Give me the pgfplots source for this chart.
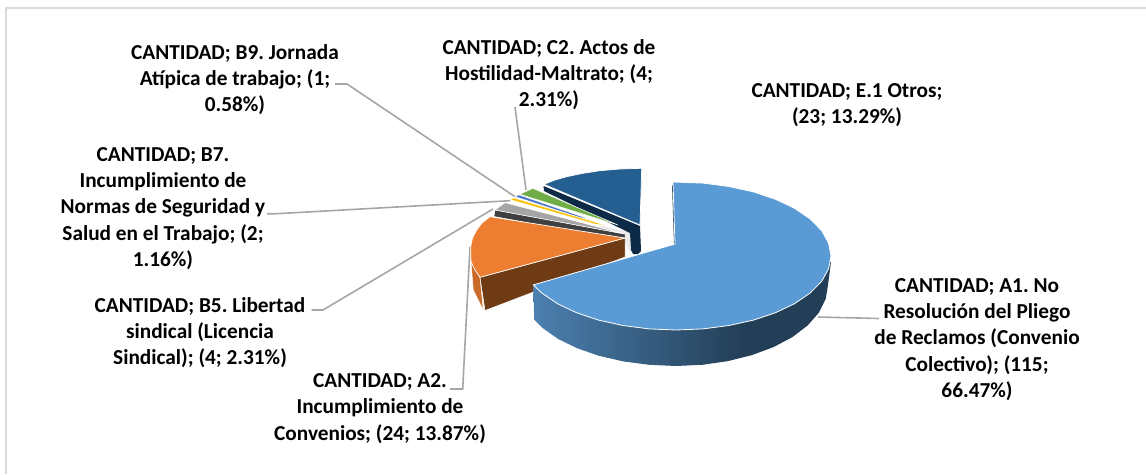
\documentclass[border=0pt]{standalone}
\usepackage{fontspec}
\usepackage{pgfplots}
\pgfplotsset{compat=1.18}
\setmainfont{Carlito}
\frenchspacing
\definecolor{cA}{HTML}{5B9BD5}
\definecolor{cAl}{HTML}{4C80AF}
\definecolor{cAd}{HTML}{233F58}
\definecolor{cO}{HTML}{ED7D31}
\definecolor{cOs}{HTML}{C96A2A}
\definecolor{cBr}{HTML}{6F3B14}
\definecolor{cG}{HTML}{A5A5A5}
\definecolor{cGd}{HTML}{404040}
\definecolor{cY}{HTML}{FFC000}
\definecolor{cB}{HTML}{4472C4}
\definecolor{cGr}{HTML}{70AD47}
\definecolor{cN}{HTML}{255E91}
\definecolor{cNd}{HTML}{0D2A47}
\definecolor{lead}{HTML}{A6A6A6}
\definecolor{frame}{HTML}{D9D9D9}
\pgfdeclarehorizontalshading{sideblue}{100bp}{color(0bp)=(cAl); color(25bp)=(cAl); color(60bp)=(cAd); color(100bp)=(cAd)}
\tikzset{lbl/.style={font=\fontsize{21.3}{26.2}\selectfont\bfseries,align=center,text=black,inner sep=0pt},
  ld/.style={draw=lead,line width=1.6pt}}
\begin{document}
\begin{tikzpicture}
\useasboundingbox (0,0) rectangle (1146pt,474pt);
\begin{axis}[at={(0,0)},anchor=south west,scale only axis,width=1146pt,height=474pt,
  xmin=0,xmax=1146,ymin=0,ymax=474,y dir=reverse,hide axis,clip=false]
% frame
\addplot[draw=frame,line width=1.6pt] coordinates {(6,474) (6,8) (1146,8)};
% leader lines
\addplot[ld] coordinates {(818,317) (879,318.5)};
\addplot[ld] coordinates {(450,389) (462.7,389) (470,247)};
\addplot[ld] coordinates {(311.7,310) (323,310) (493,209)};
\addplot[ld] coordinates {(267,213.7) (276.7,213.7) (510,200.7)};
\addplot[ld] coordinates {(335,84) (347,84) (515,196.7)};
\addplot[ld] coordinates {(515,107) (526,190)};
% light inner region
\addplot[fill=black!8,draw=none] coordinates {(598,225) (630,232) (631,254) (624,240)} --cycle;
% E.1 Otros
\addplot[fill=cNd,draw=none] coordinates {(543.5,186) (640,226) (641,251) (638,254) (633,254) (631,250) (630,233) (544,191)} --cycle;
\addplot[fill=cN,draw=white,line width=0.7pt] coordinates {(544,184.3) (555,180) (566.7,176.7) (583,173.3) (600,170.7) (620,169) (641.7,168.3) (640,225)} --cycle;
% C2
\addplot[fill=cGr,draw=white,line width=0.5pt] coordinates {(520,194.3) (532.7,188.3) (618,225)} --cycle;
% B9
\addplot[fill=cB,draw=white,line width=0.3pt] coordinates {(515,196.5) (519,195) (590,219.5) (580,217.5)} --cycle;
% B7
\addplot[fill=cY,draw=white,line width=0.3pt] coordinates {(510,199.5) (514,198) (606,225.5) (595,224)} --cycle;
% B5
\addplot[fill=cGd,draw=white,line width=0.5pt] coordinates {(495,210) (625,234) (625,241) (494,216.5)} --cycle;
\addplot[fill=cG,draw=white,line width=0.5pt] coordinates {(495,210) (505,202.7) (625,234)} --cycle;
% A2
\addplot[fill=cOs,draw=white,line width=0.5pt] coordinates {(471,261.7) (473.3,290) (483.3,310) (480,277.3)} --cycle;
\addplot[fill=cBr,draw=white,line width=0.5pt] coordinates {(480,277.3) (625,238) (625,257) (485,310.5)} --cycle;
\addplot[fill=cO,draw=white,line width=0.7pt] coordinates {(490,216.7) (482,223) (476.7,230) (472.5,238) (470.7,246.7) (470.7,254) (471,261.7) (475,270) (480,277.3) (625,238)} --cycle;
% A1 side
\addplot[shading=sideblue,draw=none] coordinates {(533.3,284.9) (534.2,319.7) (542.6,328) (558,338.9) (577,348.2) (599,355.8) (623.3,361.4) (649.3,364.8) (676,366) (702.4,364.8) (728,361.1) (752,355.1) (773.7,347) (792.4,337.1) (807.6,325.5) (818.8,312.8) (825.7,299) (828,285) (831,262)} --cycle;
% A1 top
\addplot[fill=black!55!cA,draw=none] coordinates {(672,185) (673.5,185) (675.5,244) (674,244)} --cycle;
\addplot[fill=cA,draw=white,line width=0.8pt] coordinates {(673,182) (703,183.1) (729,186.5) (753.5,191.9) (775.6,199.3) (794.7,208.4) (810.2,219) (821.7,230.7) (828.6,243.2) (831,256) (828.6,268.8) (821.7,281.3) (810.2,293) (794.7,303.6) (775.6,312.7) (753.5,320.1) (729,325.5) (703,328.9) (676,330) (649,328.9) (623,325.5) (598.5,320.1) (576.4,312.7) (557.3,303.6) (541.8,293) (533.3,284.9) (675,244)} --cycle;
% labels
\node[lbl] at (axis cs:235,79.5) {CANTIDAD; B9. Jornada\\Atípica de trabajo; (1;\\0.58\%)};
\node[lbl] at (axis cs:549,74.5) {CANTIDAD; C2. Actos de\\Hostilidad-Maltrato; (4;\\2.31\%)};
\node[lbl] at (axis cs:847,105.5) {CANTIDAD; E.1 Otros;\\(23; 13.29\%)};
\node[lbl] at (axis cs:163,208.5) {CANTIDAD; B7.\\Incumplimiento de\\Normas de Seguridad y\\Salud en el Trabajo; (2;\\1.16\%)};
\node[lbl] at (axis cs:200,332.5) {CANTIDAD; B5. Libertad\\sindical (Licencia\\Sindical); (4; 2.31\%)};
\node[lbl] at (axis cs:380,408.5) {CANTIDAD; A2.\\Incumplimiento de\\Convenios; (24; 13.87\%)};
\node[lbl] at (axis cs:977,339.5) {CANTIDAD; A1. No\\Resolución del Pliego\\de Reclamos (Convenio\\Colectivo); (115;\\66.47\%)};
\end{axis}
\end{tikzpicture}
\end{document}
